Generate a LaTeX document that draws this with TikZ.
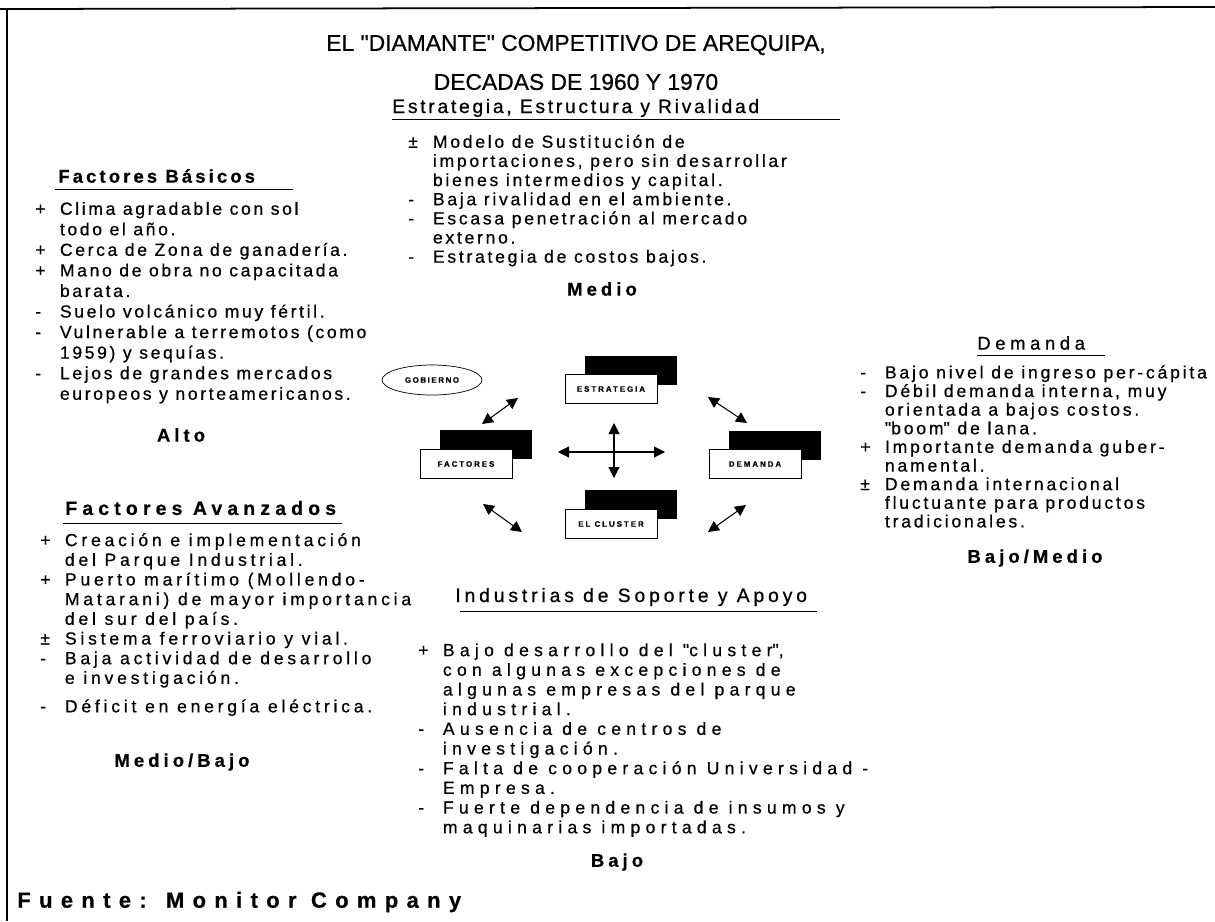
\documentclass[tikz,border=0pt]{standalone}
\usepackage{fontspec}
\setmainfont{Liberation Sans}
\usetikzlibrary{arrows.meta}
\usetikzlibrary{shapes.geometric}
\newcommand{\trk}[1]{\addfontfeatures{LetterSpace=#1,FakeBold=0.6}}
\newcommand{\sg}[1]{\makebox[14pt][l]{#1}}
\newcommand{\qq}{\textquotedbl}
\tikzset{
  lista/.style={anchor=north west, inner sep=0pt, align=left},
  encab/.style={anchor=west, inner sep=0pt},
  nivel/.style={font=\fontsize{10.5}{12}\bfseries\selectfont\trk{22}},
  caja/.style={draw, fill=white, minimum width=1.84cm, minimum height=0.58cm, inner sep=0pt,
    font=\fontsize{4.5}{5}\bfseries\selectfont\trk{25}},
  sombra/.style={fill=black, minimum width=1.84cm, minimum height=0.58cm, inner sep=0pt},
  dflecha/.style={{Triangle[length=2.2mm,width=2.2mm]}-{Triangle[length=2.2mm,width=2.2mm]}, line width=0.6pt}
}

\begin{document}
\begin{tikzpicture}[x=0.02cm, y=-0.02cm]
  \fill[white] (0,0) rectangle (1215,921);
  \useasboundingbox (0,0) rectangle (1215,921);

  \draw[line width=1pt] (0,9) -- (1215,7);
  \draw[line width=0.8pt] (7,9) -- (7,921);

  \node[font=\fontsize{13}{15}\selectfont\trk{0}] (tit1) at (576,45) {EL \qq DIAMANTE\qq{} COMPETITIVO DE AREQUIPA,};
  \node[font=\fontsize{13}{15}\selectfont\trk{0}] (tit2) at (576,82) {DECADAS DE 1960 Y 1970};

  \node[encab, font=\fontsize{11}{13}\selectfont\trk{14}] (hEst) at (392,108) {Estrategia, Estructura y Rivalidad};
  \draw (392,119) -- (840,119);
  \node[lista, font=\fontsize{10}{10.9}\selectfont\trk{15.5}] (lEst) at (408,134)
    {\strut\sg{±}Modelo de Sustitución de\\
     \sg{}importaciones, pero sin desarrollar\\
     \sg{}bienes intermedios y capital.\\
     \sg{-}Baja rivalidad en el ambiente.\\
     \sg{-}Escasa penetración al mercado\\
     \sg{}externo.\\
     \sg{-}Estrategia de costos bajos.};
  \node[nivel] (nEst) at (602,289) {Medio};

  \node[encab, font=\fontsize{10.5}{12}\bfseries\selectfont\trk{17}] (hBas) at (58,176) {Factores Básicos};
  \draw (55,189) -- (293,189);
  \node[lista, font=\fontsize{10}{11.7}\selectfont\trk{15}] (lBas) at (35,200)
    {\strut\sg{+}Clima agradable con sol\\
     \sg{}todo el año.\\
     \sg{+}Cerca de Zona de ganadería.\\
     \sg{+}Mano de obra no capacitada\\
     \sg{}barata.\\
     \sg{-}Suelo volcánico muy fértil.\\
     \sg{-}Vulnerable a terremotos (como\\
     \sg{}1959) y sequías.\\
     \sg{-}Lejos de grandes mercados\\
     \sg{}europeos y norteamericanos.};
  \node[nivel] (nBas) at (181,435) {Alto};

  \node[encab, font=\fontsize{11}{13}\bfseries\selectfont\trk{27}] (hAva) at (65,508) {Factores Avanzados};
  \draw (63,523) -- (342,523);
  \node[lista, font=\fontsize{10}{11.2}\selectfont\trk{21.5}] (lAva) at (40,532)
    {\strut\sg{+}Creación e implementación\\
     \sg{}del Parque Industrial.\\
     \sg{+}Puerto marítimo (Mollendo-\\
     \sg{}Matarani) de mayor importancia\\
     \sg{}del sur del país.\\
     \sg{±}Sistema ferroviario y vial.\\
     \sg{-}Baja actividad de desarrollo\\
     \sg{}e investigación.\\[5pt]
     \sg{-}Déficit en energía eléctrica.};
  \node[nivel] (nAva) at (182,762) {Medio/Bajo};

  \node[encab, font=\fontsize{10.5}{12}\selectfont\trk{25}] (hDem) at (977,343) {Demanda};
  \draw (977,355) -- (1105,355);
  \node[lista, font=\fontsize{10}{10.6}\selectfont\trk{16}] (lDem) at (860,365)
    {\strut\sg{-}Bajo nivel de ingreso per-cápita\\
     \sg{-}Débil demanda interna, muy\\
     \sg{}orientada a bajos costos.\\
     \sg{}\qq boom\qq{} de lana.\\
     \sg{+}Importante demanda guber-\\
     \sg{}namental.\\
     \sg{±}Demanda internacional\\
     \sg{}fluctuante para productos\\
     \sg{}tradicionales.};
  \node[nivel] (nDem) at (1035,558) {Bajo/Medio};

  \node[encab, font=\fontsize{11}{13}\selectfont\trk{20}] (hInd) at (455,597) {Industrias de Soporte y Apoyo};
  \draw (460,611) -- (817,611);
  \node[lista, font=\fontsize{10}{11.2}\selectfont\trk{30}] (lInd) at (418,642)
    {\strut\sg{+}Bajo desarrollo del \qq cluster\qq,\\
     \sg{}con algunas excepciones de\\
     \sg{}algunas empresas del parque\\
     \sg{}industrial.\\
     \sg{-}Ausencia de centros de\\
     \sg{}investigación.\\
     \sg{-}Falta de cooperación Universidad -\\
     \sg{}Empresa.\\
     \sg{-}Fuerte dependencia de insumos y\\
     \sg{}maquinarias importadas.};
  \node[nivel] (nInd) at (617,862) {Bajo};

  \node[encab, font=\fontsize{12.5}{14}\bfseries\selectfont\trk{38}] (fuente) at (17,902) {Fuente: Monitor Company};

  \node[draw, ellipse, minimum width=2cm, minimum height=0.6cm, inner sep=0pt,
    font=\fontsize{4.5}{5}\bfseries\selectfont\trk{20}] (gob) at (432,380) {GOBIERNO};

  \node[sombra] (sEst) at (631,370) {};
  \node[caja] (est) at (611,389) {ESTRATEGIA};
  \node[sombra] (sFac) at (486,444) {};
  \node[caja] (fac) at (466,464) {FACTORES};
  \node[sombra] (sDem) at (775,445) {};
  \node[caja] (dem) at (755,464) {DEMANDA};
  \node[sombra] (sClu) at (631,504) {};
  \node[caja] (clu) at (611,524) {EL CLUSTER};

  \coordinate (cO) at (558,452);
  \coordinate (cE) at (665,452);
  \coordinate (cN) at (614,423);
  \coordinate (cS) at (614,478);
  \draw[dflecha] (cO) -- (cE);
  \draw[dflecha] (cN) -- (cS);

  \coordinate (a1) at (482,424);
  \coordinate (a2) at (518,398);
  \coordinate (b1) at (708,397);
  \coordinate (b2) at (747,423);
  \coordinate (c1) at (483,504);
  \coordinate (c2) at (522,532);
  \coordinate (d1) at (708,532);
  \coordinate (d2) at (746,505);
  \draw[dflecha] (a1) -- (a2);
  \draw[dflecha] (b1) -- (b2);
  \draw[dflecha] (c1) -- (c2);
  \draw[dflecha] (d1) -- (d2);
\end{tikzpicture}
\end{document}
